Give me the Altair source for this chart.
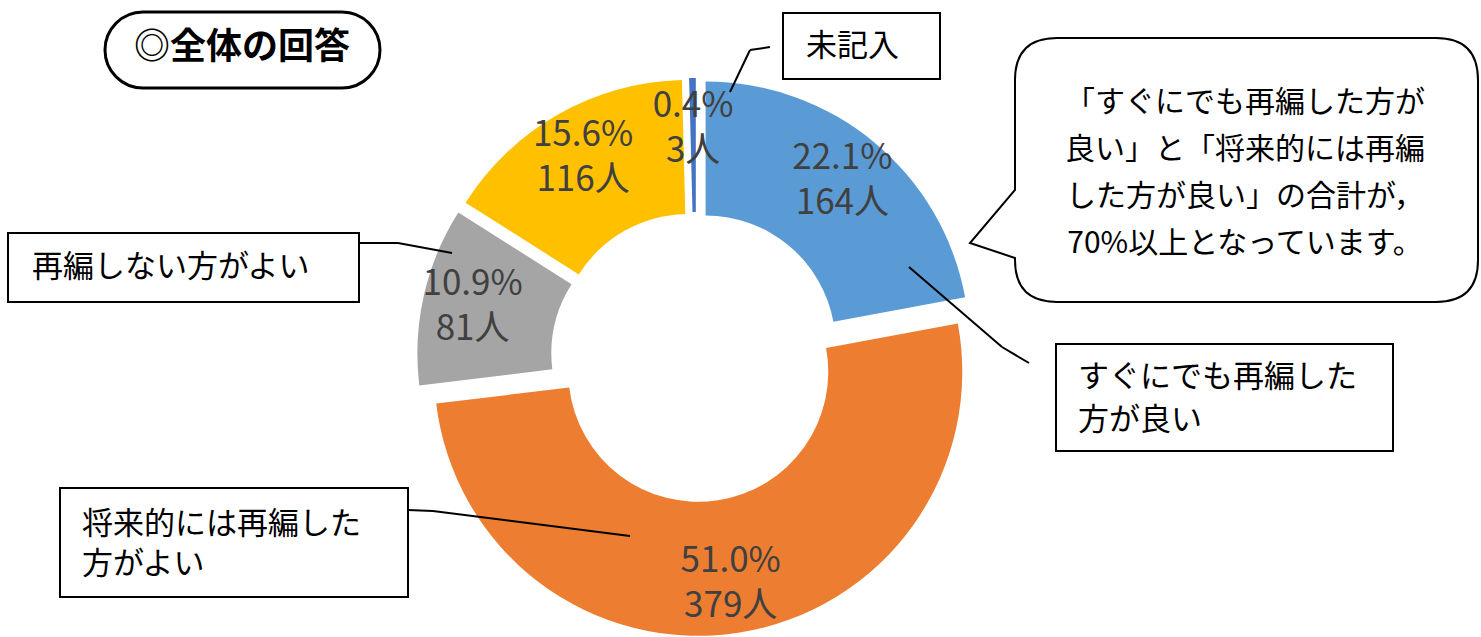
import altair as alt
import pandas as pd

# ---- data ----
categories = ["すぐにでも再編した方が良い", "将来的には再編した方がよい", "再編しない方がよい", "その他", "未記入"]
counts = [164, 379, 81, 116, 3]
percents = [22.1, 51.0, 10.9, 15.6, 0.4]
colors = ["#5B9BD5", "#ED7D31", "#A5A5A5", "#FFC000", "#4472C4"]

df = pd.DataFrame({
    "cat": categories,
    "count": counts,
    "pct": percents,
    "order": list(range(len(categories))),
})

# ---- layout constants ----
W, H = 1481, 637
CX, CY = 696, 357
R_OUT, R_IN = 264, 130
EXPLODE = 15
LABEL_R = 214
LINE_H = 45
FONT = "Noto Sans CJK JP"
ONE = alt.Data(values=[{}])

base = alt.Chart(df).transform_window(
    cum="sum(count)", sort=[alt.SortField("order")], frame=[None, 0]
).transform_joinaggregate(
    total="sum(count)"
).transform_calculate(
    t1="2*PI*datum.cum/datum.total",
    t0="2*PI*(datum.cum-datum.count)/datum.total",
).transform_calculate(
    mid="(datum.t0+datum.t1)/2"
).transform_calculate(
    px=f"{CX}+{EXPLODE}*sin(datum.mid)",
    py=f"{CY}-{EXPLODE}*cos(datum.mid)",
    lx=f"{CX}+{EXPLODE + LABEL_R}*sin(datum.mid)",
    ly=f"{CY}-{EXPLODE + LABEL_R}*cos(datum.mid)-{LINE_H / 2}",
    lab="[format(datum.pct, '.1f') + '%', datum.count + '人']",
)

arcs = base.mark_arc(innerRadius=R_IN, outerRadius=R_OUT).encode(
    x=alt.X("px:Q", scale=None),
    y=alt.Y("py:Q", scale=None),
    theta=alt.Theta("t0:Q", scale=None, stack=None),
    theta2="t1:Q",
    color=alt.Color("cat:N", scale=alt.Scale(domain=categories, range=colors), legend=None),
)

labels = base.mark_text(
    font=FONT, fontSize=35, color="#404040", lineHeight=LINE_H,
    align="center", baseline="middle",
).encode(
    x=alt.X("lx:Q", scale=None),
    y=alt.Y("ly:Q", scale=None),
    text="lab:N",
)


def seg(x1, y1, x2, y2, w=2):
    return alt.Chart(ONE).mark_rule(color="black", strokeWidth=w).encode(
        x=alt.value(x1), y=alt.value(y1), x2=alt.value(x2), y2=alt.value(y2)
    )


def box(x1, y1, x2, y2, w=2, radius=0):
    return alt.Chart(ONE).mark_rect(
        fill="white", stroke="black", strokeWidth=w, cornerRadius=radius
    ).encode(x=alt.value(x1), y=alt.value(y1), x2=alt.value(x2), y2=alt.value(y2))


def txt(s, x, y, size=31, align="left", weight="normal", lh=43):
    return alt.Chart(ONE).mark_text(
        text=s, font=FONT, fontSize=size, fontWeight=weight, color="black",
        align=align, baseline="middle", lineHeight=lh,
    ).encode(x=alt.value(x), y=alt.value(y))


leaders = [
    seg(770, 47, 750, 50), seg(750, 50, 730, 92),
    seg(909, 267, 1002, 347), seg(1002, 347, 1029, 363),
    seg(359, 243, 398, 243), seg(398, 243, 452, 253),
    seg(408, 510, 433, 511), seg(433, 511, 630, 536),
]

# speech bubble outline
L, R, T, B, r = 1015, 1478, 38, 302, 42
bubble_path = (
    f"M{L + r},{T} L{R - r},{T} Q{R},{T} {R},{T + r} L{R},{B - r} Q{R},{B} {R - r},{B} "
    f"L{L + r},{B} Q{L},{B} {L},{B - r} L{L},258 L970,243 L{L},190 L{L},{T + r} Q{L},{T} {L + r},{T} Z"
)
bubble = alt.Chart(ONE).mark_point(
    shape=bubble_path, size=4, fill="white", stroke="black", strokeWidth=2,
    opacity=1, filled=False,
).encode(x=alt.value(0), y=alt.value(0))

annotations = [
    box(105, 12, 380, 88, w=3, radius=38),
    txt("◎全体の回答", 242, 48, size=36, align="center", weight="bold"),
    box(783, 13, 940, 79),
    txt("未記入", 806, 47),
    box(1056, 344, 1393, 451),
    txt(["すぐにでも再編した", "方が良い"], 1078, 378),
    box(8, 233, 359, 302),
    txt("再編しない方がよい", 32, 268),
    box(60, 488, 408, 597),
    txt(["将来的には再編した", "方がよい"], 82, 525, lh=40),
    bubble,
    txt(["「すぐにでも再編した方が", "良い」と「将来的には再編", "した方が良い」の合計が，", "70%以上となっています。"],
        1245, 103, size=30, align="center", lh=47),
]

chart = alt.layer(arcs, *leaders, labels, *annotations).properties(
    width=W, height=H,
    autosize=alt.AutoSizeParams(type="none"),
    padding=0,
    background="white",
).configure_view(stroke=None)

chart.save("out.html", embed_options={"renderer": "svg", "actions": False})
